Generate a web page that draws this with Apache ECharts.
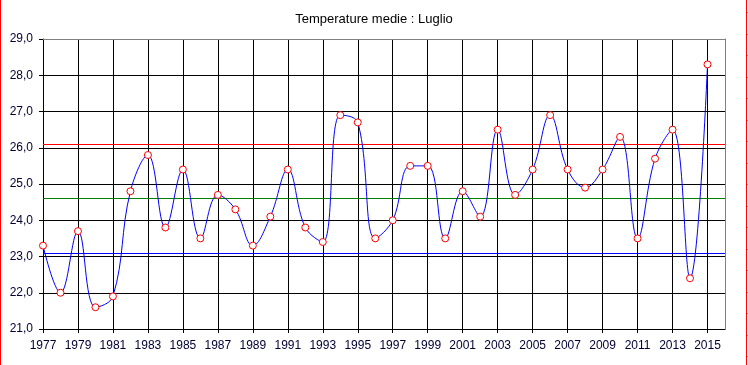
<!DOCTYPE html>
<html>
<head>
<meta charset="utf-8">
<script src="https://cdn.jsdelivr.net/npm/echarts@6/dist/echarts.min.js"></script>
<style>
html,body{margin:0;padding:0;background:#fff;}
#c{width:748px;height:365px;}
</style>
</head>
<body>
<div id="c"></div>
<script>
var title = 'Temperature medie : Luglio';
var years = ['1977','1978','1979','1980','1981','1982','1983','1984','1985','1986',
  '1987','1988','1989','1990','1991','1992','1993','1994','1995','1996',
  '1997','1998','1999','2000','2001','2002','2003','2004','2005','2006',
  '2007','2008','2009','2010','2011','2012','2013','2014','2015','2016'];
var temps = [23.3,22.0,23.7,21.6,21.9,24.8,25.8,23.8,25.4,23.5,
  24.7,24.3,23.3,24.1,25.4,23.8,23.4,26.9,26.7,23.5,
  24.0,25.5,25.5,23.5,24.8,24.1,26.5,24.7,25.4,26.9,
  25.4,24.9,25.4,26.3,23.5,25.7,26.5,22.4,28.3];
var refValues = [26.1, 24.6, 23.1];
var refColors = ['#ff0000', '#008000', '#0000ff'];
var yMin = 21, yMax = 29, yStep = 1;

var chart = echarts.init(document.getElementById('c'));
var labelColor = '#000033';
var fontFam = '"Liberation Sans", Arial, sans-serif';

var ySplitColors = [];
for (var i = yMin; i <= yMax; i += yStep) ySplitColors.push(i === yMax ? '#808080' : '#000000');

var rightTicks = [];
for (var t = 12; t < 365; t += 21.5) {
  rightTicks.push({type:'rect', shape:{x:747, y:Math.round(t), width:1, height:1}, style:{fill:'#ff8080'}, silent:true});
}

chart.setOption({
  animation: false,
  backgroundColor: '#ffffff',
  title: {
    text: title, left: 'center', top: 8,
    textStyle: {fontSize: 13, fontWeight: 'normal', color: '#000', fontFamily: fontFam}
  },
  grid: {left: 43, right: 23, top: 39, bottom: 36},
  xAxis: [{
    type: 'category', data: years, boundaryGap: false,
    axisLine: {lineStyle: {color: '#000', width: 1}},
    axisTick: {show: true, interval: 1, length: 4, lineStyle: {color: '#000'}},
    axisLabel: {interval: 1, margin: 11, color: labelColor, fontSize: 12, fontFamily: fontFam},
    splitLine: {show: true, interval: 1, lineStyle: {color: '#000', width: 1}}
  }, {
    type: 'category', data: years, boundaryGap: false, position: 'top',
    axisLine: {lineStyle: {color: '#808080', width: 1}},
    axisTick: {show: false}, axisLabel: {show: false}, splitLine: {show: false}
  }],
  yAxis: [{
    type: 'value', min: yMin, max: yMax, interval: yStep,
    axisLine: {show: true, lineStyle: {color: '#000', width: 1}},
    axisTick: {show: true, length: 4, lineStyle: {color: '#000'}},
    axisLabel: {margin: 10, color: labelColor, fontSize: 12, fontFamily: fontFam,
      formatter: function (v) { return v.toFixed(1).replace('.', ','); }},
    splitLine: {show: true, lineStyle: {color: ySplitColors, width: 1}}
  }, {
    type: 'value', min: yMin, max: yMax, interval: yStep, position: 'right',
    axisLine: {show: true, lineStyle: {color: '#808080', width: 1}},
    axisTick: {show: false}, axisLabel: {show: false}, splitLine: {show: false}
  }],
  series: [{
    type: 'line',
    data: temps,
    smooth: 0.4,
    symbol: 'circle', symbolSize: 7, showAllSymbol: true,
    lineStyle: {color: '#0000ff', width: 1},
    itemStyle: {color: '#ffffff', borderColor: '#ff0000', borderWidth: 1},
    z: 5,
    markLine: {
      silent: true, symbol: 'none', label: {show: false},
      data: refValues.map(function (v, k) {
        return {yAxis: v, lineStyle: {color: refColors[k], width: 1, type: 'solid'}};
      })
    }
  }],
  graphic: [
    {type:'rect', shape:{x:0, y:0, width:1, height:365}, style:{fill:'#ff0000'}, silent:true},
    {type:'rect', shape:{x:746, y:0, width:1, height:365}, style:{fill:'#ff0000'}, silent:true}
  ].concat(rightTicks)
});
</script>
</body>
</html>
